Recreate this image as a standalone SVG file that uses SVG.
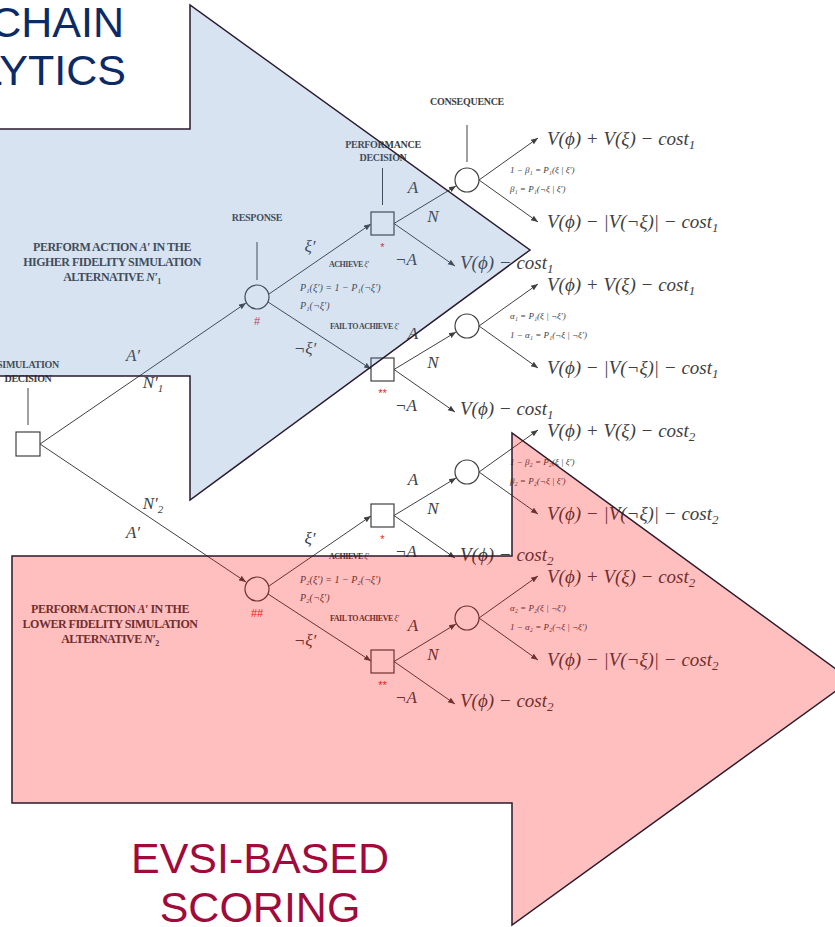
<svg xmlns="http://www.w3.org/2000/svg" width="835" height="927" viewBox="0 0 835 927">
<defs>
<marker id="ah" viewBox="0 0 10 10" refX="10" refY="5" markerWidth="7" markerHeight="7" orient="auto" markerUnits="userSpaceOnUse"><path d="M0,1 L10,5 L0,9 z" fill="#404040"/></marker>
<style>
.ln{stroke:#404040;stroke-width:1;fill:none}
.ar{marker-end:url(#ah)}
.nd{fill:#fff;stroke:#404040;stroke-width:1.2}
.lab{font-family:"Liberation Serif","DejaVu Serif",serif;font-weight:bold;font-size:10px;fill:#404040;text-anchor:middle;letter-spacing:-0.3px}
.big{font-family:"Liberation Serif","DejaVu Serif",serif;font-weight:bold;font-size:12px;fill:#404040;text-anchor:middle;letter-spacing:-0.5px}
.tiny{font-family:"Liberation Serif","DejaVu Serif",serif;font-weight:bold;font-size:8px;fill:#404040;letter-spacing:-0.5px}
.m{font-family:"Liberation Serif","DejaVu Serif",serif;font-style:italic;font-size:19px;fill:#404040}
.ml{font-family:"Liberation Serif","DejaVu Serif",serif;font-style:italic;font-size:17px;fill:#404040;text-anchor:middle}
.p{font-family:"Liberation Serif","DejaVu Serif",serif;font-style:italic;font-size:10px;fill:#404040}
.pr{font-family:"Liberation Serif","DejaVu Serif",serif;font-style:italic;font-size:9px;fill:#404040}
.red{font-family:"Liberation Sans",sans-serif;font-size:11px;fill:#e8262d;text-anchor:middle}
.arrowshape{stroke:#2a1a2e;stroke-width:1.5;stroke-linejoin:miter}
.title{font-family:"Liberation Sans",Arial,sans-serif;font-size:43px}
</style>
</defs>
<rect width="835" height="927" fill="#fff"/>

<g id="connectors">
<line class="ln ar" x1="40" y1="444" x2="246" y2="303"/>
<line class="ln ar" x1="40" y1="444" x2="246" y2="582"/>
<line class="ln ar" x1="269" y1="294" x2="371" y2="224"/>
<line class="ln ar" x1="268" y1="302" x2="371" y2="369"/>
<line class="ln ar" x1="269" y1="586" x2="371" y2="516"/>
<line class="ln ar" x1="268" y1="594" x2="371" y2="661"/>
<line class="ln ar" x1="394" y1="223.5" x2="456" y2="186"/>
<line class="ln ar" x1="394" y1="223.5" x2="455" y2="266"/>
<line class="ln ar" x1="479" y1="180" x2="538" y2="138"/>
<line class="ln ar" x1="479" y1="180" x2="538" y2="222"/>
<line class="ln ar" x1="394" y1="369.5" x2="456" y2="332"/>
<line class="ln ar" x1="394" y1="369.5" x2="455" y2="412"/>
<line class="ln ar" x1="479" y1="326" x2="538" y2="284"/>
<line class="ln ar" x1="479" y1="326" x2="538" y2="368"/>
<line class="ln ar" x1="394" y1="515.5" x2="456" y2="478"/>
<line class="ln ar" x1="394" y1="515.5" x2="455" y2="558"/>
<line class="ln ar" x1="479" y1="472" x2="538" y2="430"/>
<line class="ln ar" x1="479" y1="472" x2="538" y2="514"/>
<line class="ln ar" x1="394" y1="661.5" x2="456" y2="624"/>
<line class="ln ar" x1="394" y1="661.5" x2="455" y2="704"/>
<line class="ln ar" x1="479" y1="618" x2="538" y2="576"/>
<line class="ln ar" x1="479" y1="618" x2="538" y2="660"/>
</g>

<g id="edge-labels">
<text class="ml" x="133" y="361">A′</text>
<text class="ml" x="153" y="388">N′<tspan font-size="11" dy="4">1</tspan></text>
<text class="ml" x="153" y="509">N′<tspan font-size="11" dy="4">2</tspan></text>
<text class="ml" x="133" y="538">A′</text>

<text class="ml" x="310" y="252">ξ′</text>
<text class="tiny" x="329" y="267">ACHIEVE <tspan font-style="italic" font-weight="normal">ξ′</tspan></text>
<text class="p" x="300" y="291">P₁(ξ′) = 1 − P₁(¬ξ′)</text>
<text class="p" x="300" y="309">P₁(¬ξ′)</text>
<text class="tiny" x="330" y="329">FAIL TO ACHIEVE <tspan font-style="italic" font-weight="normal">ξ′</tspan></text>
<text class="ml" x="305" y="354">¬ξ′</text>

<text class="ml" x="310" y="544">ξ′</text>
<text class="tiny" x="329" y="559">ACHIEVE <tspan font-style="italic" font-weight="normal">ξ′</tspan></text>
<text class="p" x="300" y="583">P₂(ξ′) = 1 − P₂(¬ξ′)</text>
<text class="p" x="300" y="601">P₂(¬ξ′)</text>
<text class="tiny" x="330" y="621">FAIL TO ACHIEVE <tspan font-style="italic" font-weight="normal">ξ′</tspan></text>
<text class="ml" x="305" y="646">¬ξ′</text>

<text class="ml" x="413" y="193">A</text>
<text class="ml" x="433" y="222">N</text>
<text class="ml" x="406" y="265">¬A</text>
<text class="ml" x="413" y="339">A</text>
<text class="ml" x="433" y="368">N</text>
<text class="ml" x="406" y="411">¬A</text>
<text class="ml" x="413" y="485">A</text>
<text class="ml" x="433" y="514">N</text>
<text class="ml" x="406" y="557">¬A</text>
<text class="ml" x="413" y="631">A</text>
<text class="ml" x="433" y="660">N</text>
<text class="ml" x="406" y="703">¬A</text>

<text class="pr" x="510" y="173">1 − β₁ = P₁(ξ | ξ′)</text>
<text class="pr" x="510" y="192">β₁ = P₁(¬ξ | ξ′)</text>
<text class="pr" x="510" y="319">α₁ = P₁(ξ | ¬ξ′)</text>
<text class="pr" x="510" y="338">1 − α₁ = P₁(¬ξ | ¬ξ′)</text>
<text class="pr" x="510" y="465">1 − β₂ = P₂(ξ | ξ′)</text>
<text class="pr" x="510" y="484">β₂ = P₂(¬ξ | ξ′)</text>
<text class="pr" x="510" y="611">α₂ = P₂(ξ | ¬ξ′)</text>
<text class="pr" x="510" y="630">1 − α₂ = P₂(¬ξ | ¬ξ′)</text>
</g>

<g id="sim-decision">
<rect class="nd" x="16" y="432" width="24" height="24"/>
<line class="ln" x1="28" y1="388" x2="28" y2="425"/>
<text class="lab" x="28" y="368">SIMULATION</text>
<text class="lab" x="28" y="382">DECISION</text>
</g>

<g id="response-1">
<circle class="nd" cx="257" cy="297" r="12"/>
<line class="ln" x1="257" y1="242" x2="257" y2="280"/>
<text class="lab" x="257" y="221">RESPONSE</text>
<text class="red" x="257" y="325">#</text>
</g>
<g id="response-2">
<circle class="nd" cx="257" cy="589" r="12"/>
<text class="red" x="257" y="617">##</text>
</g>

<g id="perf-1">
<rect class="nd" x="371" y="212" width="23" height="23"/>
<line class="ln" x1="382.5" y1="168" x2="382.5" y2="205"/>
<text class="lab" x="383" y="148">PERFORMANCE</text>
<text class="lab" x="383" y="161">DECISION</text>
<text class="red" x="382.5" y="251">*</text>
</g>
<g id="perf-2">
<rect class="nd" x="371" y="358" width="23" height="23"/>
<text class="red" x="382.5" y="397">**</text>
</g>
<g id="perf-3">
<rect class="nd" x="371" y="504" width="23" height="23"/>
<text class="red" x="382.5" y="543">*</text>
</g>
<g id="perf-4">
<rect class="nd" x="371" y="650" width="23" height="23"/>
<text class="red" x="382.5" y="689">**</text>
</g>

<g id="consequence-1">
<circle class="nd" cx="467" cy="180" r="12"/>
<line class="ln" x1="467" y1="125" x2="467" y2="162"/>
<text class="lab" x="467" y="105">CONSEQUENCE</text>
</g>
<g id="consequence-2"><circle class="nd" cx="467" cy="326" r="12"/></g>
<g id="consequence-3"><circle class="nd" cx="467" cy="472" r="12"/></g>
<g id="consequence-4"><circle class="nd" cx="467" cy="618" r="12"/></g>

<g id="outcomes">
<text class="m" x="547" y="145">V(ϕ) + V(ξ) − cost<tspan font-size="13" dy="4">1</tspan></text>
<text class="m" x="547" y="228">V(ϕ) − |V(¬ξ)| − cost<tspan font-size="13" dy="4">1</tspan></text>
<text class="m" x="460" y="269">V(ϕ) − cost<tspan font-size="13" dy="4">1</tspan></text>
<text class="m" x="547" y="291">V(ϕ) + V(ξ) − cost<tspan font-size="13" dy="4">1</tspan></text>
<text class="m" x="547" y="374">V(ϕ) − |V(¬ξ)| − cost<tspan font-size="13" dy="4">1</tspan></text>
<text class="m" x="460" y="415">V(ϕ) − cost<tspan font-size="13" dy="4">1</tspan></text>
<text class="m" x="547" y="437">V(ϕ) + V(ξ) − cost<tspan font-size="13" dy="4">2</tspan></text>
<text class="m" x="547" y="520">V(ϕ) − |V(¬ξ)| − cost<tspan font-size="13" dy="4">2</tspan></text>
<text class="m" x="460" y="561">V(ϕ) − cost<tspan font-size="13" dy="4">2</tspan></text>
<text class="m" x="547" y="583">V(ϕ) + V(ξ) − cost<tspan font-size="13" dy="4">2</tspan></text>
<text class="m" x="547" y="666">V(ϕ) − |V(¬ξ)| − cost<tspan font-size="13" dy="4">2</tspan></text>
<text class="m" x="460" y="707">V(ϕ) − cost<tspan font-size="13" dy="4">2</tspan></text>
</g>

<g id="alt-labels">
<text class="big" x="112" y="251">PERFORM ACTION <tspan font-style="italic">A′</tspan> IN THE</text>
<text class="big" x="112" y="266">HIGHER FIDELITY SIMULATION</text>
<text class="big" x="112" y="281">ALTERNATIVE <tspan font-style="italic">N′</tspan><tspan font-size="8" dy="3">1</tspan></text>
<text class="big" x="110" y="613">PERFORM ACTION <tspan font-style="italic">A′</tspan> IN THE</text>
<text class="big" x="110" y="628">LOWER FIDELITY SIMULATION</text>
<text class="big" x="110" y="643">ALTERNATIVE <tspan font-style="italic">N′</tspan><tspan font-size="8" dy="3">2</tspan></text>
</g>

<g id="blue-arrow">
<polygon class="arrowshape" points="-5,129 190,129 190,5 530,250 190,500 190,376 -5,376" fill="#4f81bd" fill-opacity="0.22"/>
</g>
<g id="pink-arrow">
<polygon class="arrowshape" points="12,556 512,556 512,433 851,680 512,925 512,803 12,803 12,556" fill="#ff0000" fill-opacity="0.25"/>
</g>

<g id="titles">
<text class="title" x="124" y="37" text-anchor="end" fill="#0b2a66">CHAIN</text>
<text class="title" x="126" y="85" text-anchor="end" fill="#0b2a66">LYTICS</text>
<text class="title" x="260" y="873" text-anchor="middle" fill="#a00b3c" font-size="42">EVSI-BASED</text>
<text class="title" x="260" y="922" text-anchor="middle" fill="#a00b3c" font-size="42">SCORING</text>
</g>
</svg>
